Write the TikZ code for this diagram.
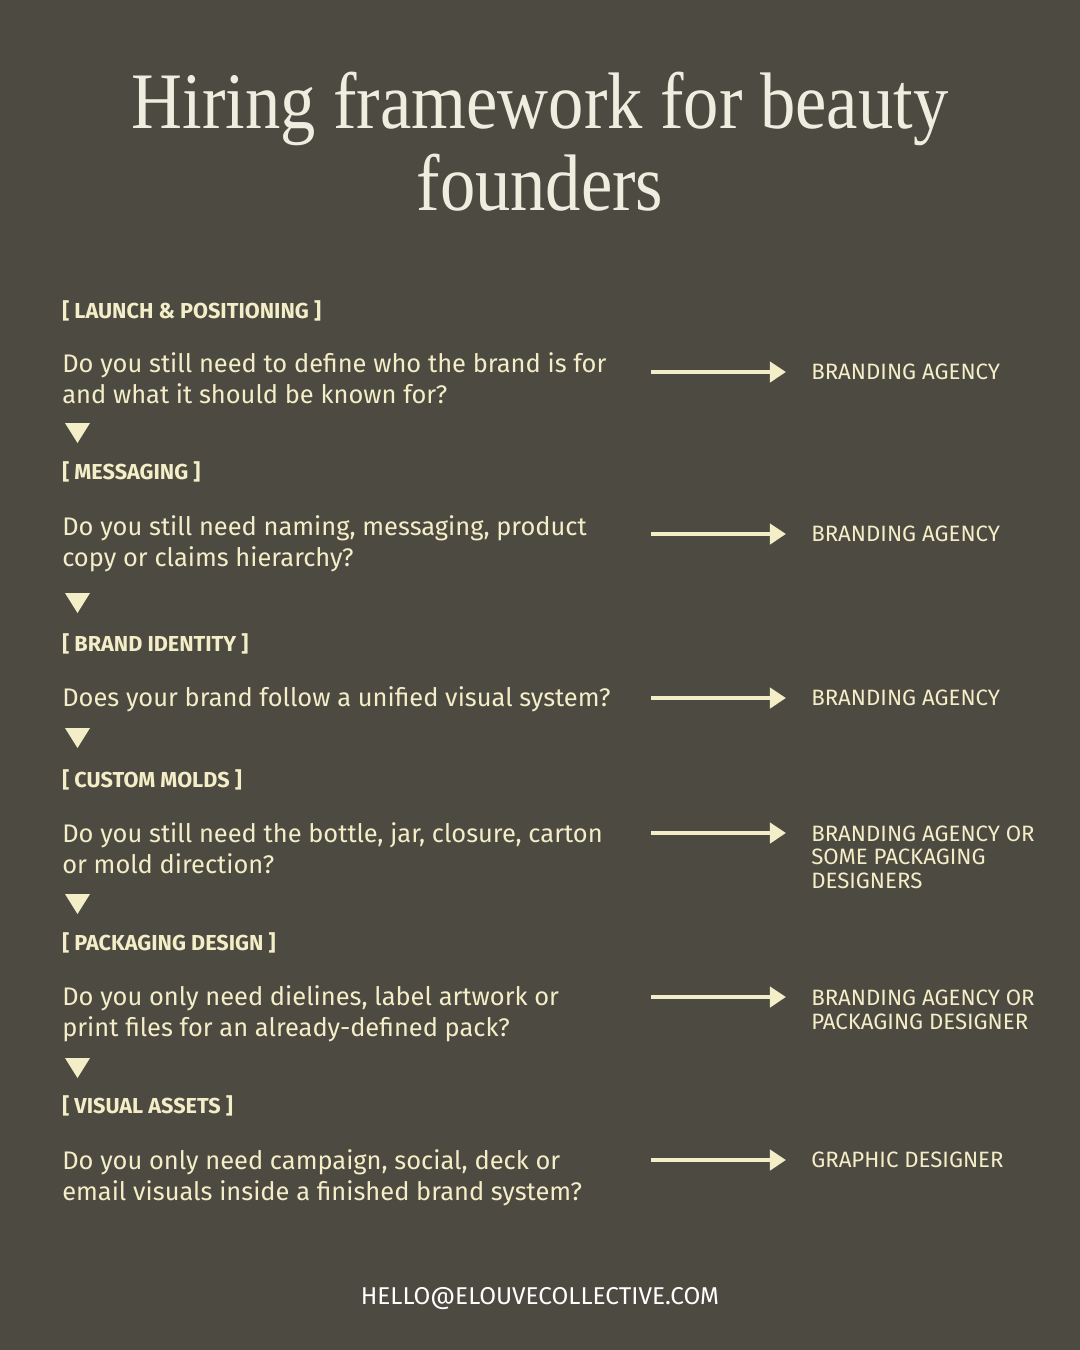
\documentclass[tikz,border=0pt]{standalone}
\usepackage{fontspec}
\setmainfont{Fira Sans}
\newfontfamily\titlefont[FakeStretch=0.88]{Liberation Serif}
\usepackage{tikz}
\usetikzlibrary{arrows.meta, positioning, calc}

\definecolor{bgolive}{HTML}{4D4B41}
\definecolor{cream1}{HTML}{F3EDC8}
\definecolor{titlecream}{HTML}{EFEDDF}

\tikzset{
  stage/.style={anchor=base west, inner sep=0pt, text=cream1, font=\fontsize{15.4}{18}\selectfont\bfseries},
  question/.style={anchor=base west, inner sep=0pt, text=cream1, align=left, font=\fontsize{18.1}{22}\selectfont},
  answer/.style={anchor=base west, inner sep=0pt, text=cream1, align=left, font=\fontsize{15.8}{16.4}\selectfont},
  flow/.style={draw=cream1, line width=2.85pt, -{Triangle[length=0.4cm, width=0.5cm]}, shorten >=0.625cm},
  marker/.style={fill=cream1}
}

\begin{document}
\begin{tikzpicture}[x=0.025cm, y=-0.025cm]
  % Background
  \fill[bgolive] (0,0) rectangle (1080,1350);
  \useasboundingbox (0,0) rectangle (1080,1350);

  % Title
  \node[inner sep=0pt, anchor=base, text=titlecream, font=\titlefont\fontsize{57}{58}\selectfont] (title1) at (540,128) {Hiring framework for beauty};
  \node[inner sep=0pt, anchor=base, text=titlecream, font=\titlefont\fontsize{57}{58}\selectfont] (title2) at (540,210) {founders};

  % Launch & positioning
  \node[stage] (launch) at (62,318) {[ LAUNCH \& POSITIONING ]};
  \node[question] (launchq) at (62,403) {Do you still need to define who the brand is for\\and what it should be known for?};
  \coordinate (launcharr) at (651,372);
  \node[answer] (launchans) at (811,379) {BRANDING AGENCY};
  \draw[flow] (launcharr) -- (launcharr -| launchans.west);
  \fill[marker] (65,423) -- ++(25,0) -- ++(-12.5,20) -- cycle;

  % Messaging
  \node[stage] (messaging) at (62,479) {[ MESSAGING ]};
  \node[question] (messagingq) at (62,566) {Do you still need naming, messaging, product\\copy or claims hierarchy?};
  \coordinate (messagingarr) at (651,534);
  \node[answer] (messagingans) at (811,541) {BRANDING AGENCY};
  \draw[flow] (messagingarr) -- (messagingarr -| messagingans.west);
  \fill[marker] (65,593) -- ++(25,0) -- ++(-12.5,20) -- cycle;

  % Brand identity
  \node[stage] (identity) at (62,651) {[ BRAND IDENTITY ]};
  \node[question] (identityq) at (62,706) {Does your brand follow a unified visual system?};
  \coordinate (identityarr) at (651,698);
  \node[answer] (identityans) at (811,705) {BRANDING AGENCY};
  \draw[flow] (identityarr) -- (identityarr -| identityans.west);
  \fill[marker] (65,728) -- ++(25,0) -- ++(-12.5,20) -- cycle;

  % Custom molds
  \node[stage] (molds) at (62,787) {[ CUSTOM MOLDS ]};
  \node[question] (moldsq) at (62,873) {Do you still need the bottle, jar, closure, carton\\or mold direction?};
  \coordinate (moldsarr) at (651,833);
  \node[answer] (moldsans) at (811,888) {BRANDING AGENCY OR\\SOME PACKAGING\\DESIGNERS};
  \draw[flow] (moldsarr) -- (moldsarr -| moldsans.west);
  \fill[marker] (65,894) -- ++(25,0) -- ++(-12.5,20) -- cycle;

  % Packaging design
  \node[stage] (packaging) at (62,950) {[ PACKAGING DESIGN ]};
  \node[question] (packagingq) at (62,1036) {Do you only need dielines, label artwork or\\print files for an already-defined pack?};
  \coordinate (packagingarr) at (651,997);
  \node[answer] (packagingans) at (811,1029) {BRANDING AGENCY OR\\PACKAGING DESIGNER};
  \draw[flow] (packagingarr) -- (packagingarr -| packagingans.west);
  \fill[marker] (65,1058) -- ++(25,0) -- ++(-12.5,20) -- cycle;

  % Visual assets
  \node[stage] (assets) at (62,1113) {[ VISUAL ASSETS ]};
  \node[question] (assetsq) at (62,1200) {Do you only need campaign, social, deck or\\email visuals inside a finished brand system?};
  \coordinate (assetsarr) at (651,1160);
  \node[answer] (assetsans) at (811,1167) {GRAPHIC DESIGNER};
  \draw[flow] (assetsarr) -- (assetsarr -| assetsans.west);

  % Footer
  \node[inner sep=0pt, anchor=base, text=white, font=\fontsize{17.3}{18}\selectfont] (footer) at (540,1304) {HELLO@ELOUVECOLLECTIVE.COM};
\end{tikzpicture}
\end{document}
